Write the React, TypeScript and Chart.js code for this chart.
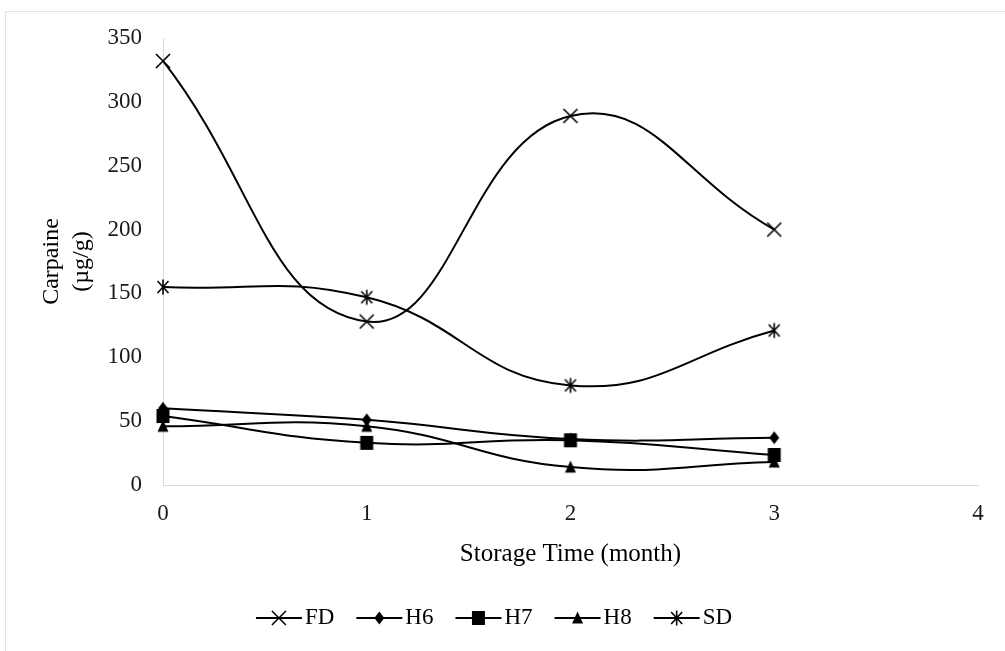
import React, { useEffect, useRef } from "react";
import { Chart, registerables } from "chart.js";

Chart.register(...registerables);

const months = [0, 1, 2, 3];
const xTicks = [0, 1, 2, 3, 4];
const seriesNames = ["FD", "H6", "H7", "H8", "SD"];
const fdValues = [332, 128, 289, 200];
const h6Values = [60, 51, 36, 37];
const h7Values = [54, 33, 35, 23.5];
const h8Values = [46, 46, 14, 18];
const sdValues = [155, 147, 78, 121];
const markerShapes = ["crossRot", "diamond", "square", "triangle", "asterisk"];

const SERIF = "'Liberation Serif', 'Times New Roman', serif";

function drawMarker(ctx: CanvasRenderingContext2D, shape: string, x: number, y: number) {
  ctx.save();
  ctx.fillStyle = "#000";
  ctx.strokeStyle = "#000";
  ctx.lineWidth = 1.6;
  ctx.beginPath();
  if (shape === "crossRot") {
    ctx.moveTo(x - 7, y - 7); ctx.lineTo(x + 7, y + 7);
    ctx.moveTo(x - 7, y + 7); ctx.lineTo(x + 7, y - 7);
    ctx.stroke();
  } else if (shape === "asterisk") {
    ctx.moveTo(x, y - 7.5); ctx.lineTo(x, y + 7.5);
    ctx.moveTo(x - 5.5, y - 6); ctx.lineTo(x + 5.5, y + 6);
    ctx.moveTo(x - 5.5, y + 6); ctx.lineTo(x + 5.5, y - 6);
    ctx.stroke();
  } else if (shape === "diamond") {
    ctx.moveTo(x, y - 6.5); ctx.lineTo(x + 5, y); ctx.lineTo(x, y + 6.5); ctx.lineTo(x - 5, y);
    ctx.closePath(); ctx.fill();
  } else if (shape === "square") {
    ctx.rect(x - 6.5, y - 7, 13, 14);
    ctx.fill();
  } else if (shape === "triangle") {
    ctx.moveTo(x, y - 6.5); ctx.lineTo(x + 5.5, y + 5.5); ctx.lineTo(x - 5.5, y + 5.5);
    ctx.closePath(); ctx.fill();
  }
  ctx.restore();
}

function markerCanvas(shape: string): HTMLCanvasElement {
  const c = document.createElement("canvas");
  c.width = 20; c.height = 20;
  const ctx = c.getContext("2d")!;
  drawMarker(ctx, shape, 10, 10);
  return c;
}

const borderPlugin = {
  id: "outerBorder",
  beforeDraw(chart: any) {
    const ctx = chart.ctx as CanvasRenderingContext2D;
    ctx.save();
    ctx.strokeStyle = "#e3e3e3";
    ctx.lineWidth = 1;
    ctx.strokeRect(5.5, 11.5, 1200, 800);
    ctx.restore();
  },
};

const legendPlugin = {
  id: "lineLegend",
  afterDraw(chart: any) {
    const ctx = chart.ctx as CanvasRenderingContext2D;
    ctx.save();
    ctx.font = `23px ${SERIF}`;
    const lineLen = 46, gapText = 3, gapItem = 22;
    const items = chart.data.datasets.map((d: any, i: number) => ({
      label: d.label as string,
      shape: markerShapes[i],
      w: ctx.measureText(d.label).width,
    }));
    let total = 0;
    items.forEach((it: any, i: number) => {
      total += lineLen + gapText + it.w + (i < items.length - 1 ? gapItem : 0);
    });
    let x = 494 - total / 2;
    const y = 618;
    items.forEach((it: any) => {
      ctx.strokeStyle = "#000";
      ctx.lineWidth = 2;
      ctx.beginPath();
      ctx.moveTo(x, y); ctx.lineTo(x + lineLen, y);
      ctx.stroke();
      drawMarker(ctx, it.shape, x + lineLen / 2, y);
      ctx.fillStyle = "#000";
      ctx.textAlign = "left";
      ctx.textBaseline = "middle";
      ctx.fillText(it.label, x + lineLen + gapText, y);
      x += lineLen + gapText + it.w + gapItem;
    });
    ctx.restore();
  },
};

export default function App() {
  const ref = useRef<HTMLCanvasElement | null>(null);
  useEffect(() => {
    document.body.style.margin = "0";
    const allValues = [fdValues, h6Values, h7Values, h8Values, sdValues];
    const datasets = seriesNames.map((name, i) => ({
      label: name,
      data: months.map((m, j) => ({ x: m, y: allValues[i][j] })),
      borderColor: "#000",
      backgroundColor: "#000",
      borderWidth: 2,
      tension: 0.45,
      pointStyle: markerCanvas(markerShapes[i]),
      pointRadius: 6,
      clip: false as any,
    }));
    const chart = new Chart(ref.current!, {
      type: "line",
      data: { datasets },
      plugins: [borderPlugin, legendPlugin],
      options: {
        animation: false,
        responsive: false,
        layout: { padding: { left: 20, top: 38, right: 27, bottom: 0 } },
        plugins: { legend: { display: false }, tooltip: { enabled: false } },
        scales: {
          x: {
            type: "linear",
            min: 0,
            max: 4,
            afterBuildTicks: (scale: any) => {
              scale.ticks = xTicks.map((v) => ({ value: v }));
            },
            afterFit: (scale: any) => { scale.height = 166; },
            grid: { display: false, drawTicks: false, tickLength: 0 },
            border: { display: true, color: "#d9d9d9", width: 1 },
            ticks: { font: { family: SERIF, size: 23 }, color: "#1a1a1a", padding: 15, maxRotation: 0 },
            title: {
              display: true,
              text: "Storage Time (month)",
              font: { family: SERIF, size: 25, lineHeight: 1.25 },
              color: "#000",
              padding: { top: 0, bottom: 81 },
            },
          },
          y: {
            type: "linear",
            min: 0,
            max: 350,
            ticks: { stepSize: 50, font: { family: SERIF, size: 23 }, color: "#1a1a1a", padding: 21 },
            afterFit: (scale: any) => { scale.width = 143; },
            grid: { display: false, drawTicks: false, tickLength: 0 },
            border: { display: true, color: "#d9d9d9", width: 1 },
            title: {
              display: true,
              text: ["Carpaine", "(µg/g)"],
              font: { family: SERIF, size: 24, lineHeight: 1.25 },
              color: "#000",
              padding: { top: 17, bottom: 0 },
            },
          },
        },
      },
    });
    return () => chart.destroy();
  }, []);
  return <canvas ref={ref} width={1005} height={651} style={{ display: "block" }} />;
}
